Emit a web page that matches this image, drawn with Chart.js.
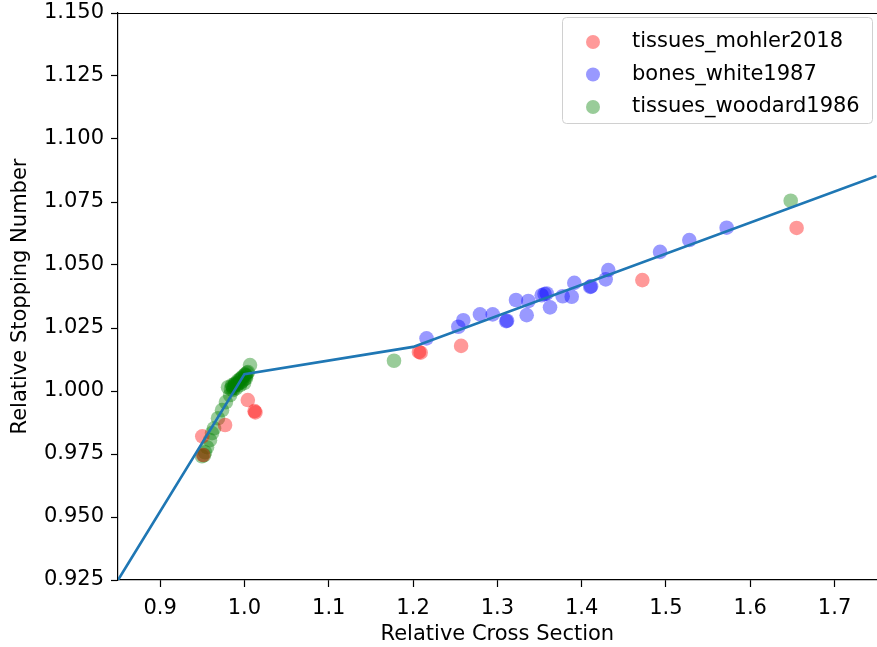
<!DOCTYPE html>
<html>
<head>
<meta charset="utf-8">
<script src="https://cdn.jsdelivr.net/npm/chart.js@4.4.1/dist/chart.umd.min.js"></script>
<style>
  html, body { margin: 0; padding: 0; background: #fff; overflow: hidden; }
  #wrap { width: 884px; height: 647px; position: relative; }
</style>
</head>
<body>
<div id="wrap"><canvas id="chart"></canvas></div>
<script>
// tissues_mohler2018
const mohlerX = [0.950, 0.951, 0.977, 1.004, 1.012, 1.013, 1.207, 1.209, 1.257, 1.472, 1.655];
const mohlerY = [0.982, 0.9746, 0.9865, 0.9964, 0.992, 0.9915, 1.0155, 1.0152, 1.0179, 1.044, 1.0647];

// bones_white1987
const whiteX = [1.216, 1.2537, 1.2596, 1.2794, 1.2945, 1.3105, 1.3115, 1.3221, 1.3348, 1.3367, 1.3526, 1.356, 1.3585,
  1.3625, 1.3775, 1.3882, 1.3913, 1.4102, 1.4112, 1.4285, 1.4316, 1.493, 1.5277, 1.572];
const whiteY = [1.0209, 1.0255, 1.0281, 1.0304, 1.0304, 1.0277, 1.0279, 1.0361, 1.0301, 1.0357, 1.038, 1.0385, 1.0387,
  1.0332, 1.0376, 1.0374, 1.0429, 1.0413, 1.0415, 1.0443, 1.048, 1.0552, 1.0599, 1.0648];

// tissues_woodard1986
const woodardX = [1.0066, 1.0042, 1.0007, 0.997, 0.9947, 0.9924, 0.9888, 0.9852, 0.9805, 0.990, 0.9947, 0.9995, 1.0018,
  0.9864, 0.983, 0.978, 0.9734, 0.9686, 0.9639, 0.9615, 0.9591, 0.9556, 0.9532, 0.9496, 0.952, 1.1774, 1.648,
  0.986, 0.989, 0.992, 0.995, 0.998, 1.001, 1.003, 0.984, 0.988, 0.993, 0.997, 1.0, 0.987, 0.991, 0.996, 1.002];
const woodardY = [1.0103, 1.0075, 1.0063, 1.0051, 1.0043, 1.0035, 1.0027, 1.0023, 1.0015, 1.0011, 1.0023, 1.0031, 1.0051,
  1.0004, 0.9984, 0.9956, 0.9924, 0.9892, 0.9852, 0.9833, 0.9805, 0.9777, 0.9757, 0.9741, 0.9745, 1.012, 1.0755,
  1.0018, 1.0030, 1.0040, 1.0048, 1.0057, 1.0066, 1.0072, 1.0008, 1.0020, 1.0030, 1.0038, 1.0046, 1.0012, 1.0025, 1.0035, 1.0060];

// fitted line
const fitX = [0.85, 1.0, 1.2, 1.75];
const fitY = [0.925, 1.0067, 1.0175, 1.0853];

const xTicks = [0.9, 1.0, 1.1, 1.2, 1.3, 1.4, 1.5, 1.6, 1.7];
const yTicks = [0.925, 0.95, 0.975, 1.0, 1.025, 1.05, 1.075, 1.1, 1.125, 1.15];

const seriesNames = ['tissues_mohler2018', 'bones_white1987', 'tissues_woodard1986'];
const seriesColors = ['rgba(255,0,0,0.4)', 'rgba(0,0,255,0.4)', 'rgba(0,128,0,0.4)'];

const pts = (xs, ys) => xs.map((x, i) => ({ x: x, y: ys[i] }));
const FONT = 'DejaVu Sans';

// top spine + legend box inside the plot
const frameAndLegend = {
  id: 'frameAndLegend',
  afterDraw(chart) {
    const ctx = chart.ctx, a = chart.chartArea;
    ctx.save();
    ctx.strokeStyle = '#000';
    ctx.lineWidth = 1.2;
    ctx.beginPath();
    ctx.moveTo(a.left, a.top + 0.5);
    ctx.lineTo(a.right + 2, a.top + 0.5);
    ctx.stroke();

    // legend
    const bx = 562, by = 17, bw = 310, bh = 106, r = 4;
    ctx.fillStyle = 'rgba(255,255,255,0.8)';
    ctx.strokeStyle = '#d0d0d0';
    ctx.lineWidth = 1;
    ctx.beginPath();
    ctx.roundRect(bx + 0.5, by + 0.5, bw, bh, r);
    ctx.fill();
    ctx.stroke();
    ctx.font = '21px "' + FONT + '"';
    ctx.textBaseline = 'middle';
    seriesNames.forEach((name, i) => {
      const cy = 42 + i * 32.5;
      ctx.fillStyle = seriesColors[i];
      ctx.beginPath();
      ctx.arc(593, cy, 7, 0, Math.PI * 2);
      ctx.fill();
      ctx.fillStyle = '#000';
      ctx.fillText(name, 632, cy);
    });
    ctx.restore();
  }
};

new Chart(document.getElementById('chart'), {
  type: 'scatter',
  data: {
    datasets: [
      {
        type: 'line',
        label: 'fit',
        data: pts(fitX, fitY),
        borderColor: '#1f77b4',
        borderWidth: 2.7,
        pointRadius: 0,
        fill: false,
        order: 0
      },
      {
        label: seriesNames[0],
        data: pts(mohlerX, mohlerY),
        backgroundColor: seriesColors[0],
        borderColor: seriesColors[0],
        pointRadius: 7.3,
        borderWidth: 0,
        order: 1
      },
      {
        label: seriesNames[1],
        data: pts(whiteX, whiteY),
        backgroundColor: seriesColors[1],
        borderColor: seriesColors[1],
        pointRadius: 7.3,
        borderWidth: 0,
        order: 1
      },
      {
        label: seriesNames[2],
        data: pts(woodardX, woodardY),
        backgroundColor: seriesColors[2],
        borderColor: seriesColors[2],
        pointRadius: 7.3,
        borderWidth: 0,
        order: 1
      }
    ]
  },
  options: {
    responsive: true,
    maintainAspectRatio: false,
    animation: false,
    layout: { padding: { top: 13, left: 0, right: 0, bottom: 0 } },
    plugins: { legend: { display: false }, tooltip: { enabled: false } },
    scales: {
      x: {
        type: 'linear',
        min: 0.85,
        max: 1.75,
        afterBuildTicks: s => { s.ticks = xTicks.map(v => ({ value: v })); },
        afterFit: s => { s.height = 67; s.paddingRight = 0; },
        ticks: {
          color: '#000',
          padding: 9,
          font: { family: FONT, size: 21 },
          callback: v => v.toFixed(1)
        },
        grid: { drawOnChartArea: false, tickLength: 7, color: '#000', tickWidth: 1.2 },
        border: { color: '#000', width: 1.2 },
        title: {
          display: true,
          text: 'Relative Cross Section',
          color: '#000',
          font: { family: FONT, size: 21 },
          padding: { top: 0, bottom: 0 }
        }
      },
      y: {
        type: 'linear',
        min: 0.925,
        max: 1.15,
        afterBuildTicks: s => { s.ticks = yTicks.map(v => ({ value: v })); },
        afterFit: s => { s.width = 118; s.paddingTop = 0; s.paddingBottom = 0; },
        ticks: {
          color: '#000',
          padding: 7,
          font: { family: FONT, size: 21 },
          callback: v => v.toFixed(3)
        },
        grid: { drawOnChartArea: false, tickLength: 7, color: '#000', tickWidth: 1.2 },
        border: { color: '#000', width: 1.2 },
        title: {
          display: true,
          text: 'Relative Stopping Number',
          color: '#000',
          font: { family: FONT, size: 21 },
          padding: { top: 8, bottom: 0 }
        }
      }
    }
  },
  plugins: [frameAndLegend]
});
</script>
</body>
</html>
